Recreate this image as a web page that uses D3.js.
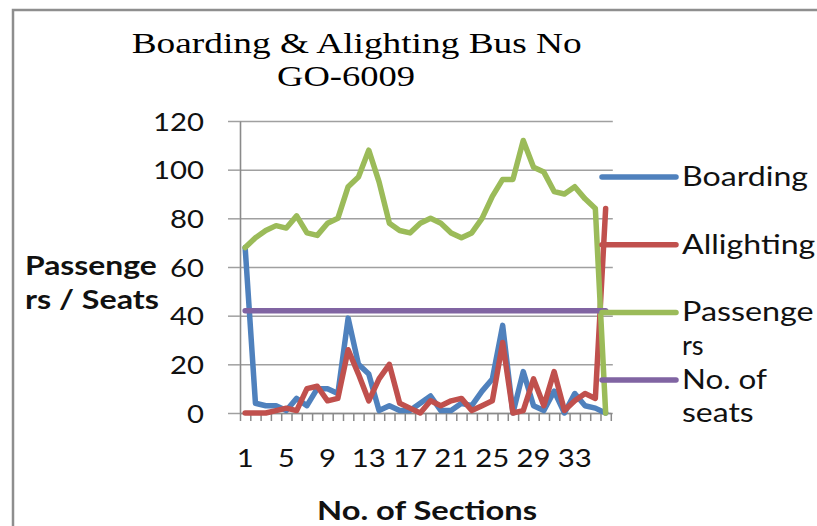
<!DOCTYPE html>
<html>
<head>
<meta charset="utf-8">
<script src="https://cdn.jsdelivr.net/npm/d3@7"></script>
<style>
  html, body { margin: 0; padding: 0; background: #fff; }
  svg { display: block; }
</style>
</head>
<body>
<svg id="chart" width="817" height="526"></svg>
<script>
// Sections along the route
const sections = [1, 2, 3, 4, 5, 6, 7, 8, 9, 10, 11, 12, 13, 14, 15, 16, 17, 18,
                  19, 20, 21, 22, 23, 24, 25, 26, 27, 28, 29, 30, 31, 32, 33, 34, 35, 36];

// Passengers boarding at each section
const boarding = [68, 4, 3, 3, 1, 6, 3, 10, 10, 8, 39, 20, 16, 1, 3, 1, 1, 4,
                  7, 1, 1, 4, 3, 9, 14, 36, 0, 17, 3, 1, 9, 0, 8, 3, 2, 0];

// Passengers alighting at each section
const alighting = [0, 0, 0, 1, 2, 1, 10, 11, 5, 6, 26, 16, 5, 14, 20, 4, 2, 0,
                   5, 3, 5, 6, 1, 3, 5, 29, 0, 1, 14, 3, 17, 1, 5, 8, 6, 84];

// Passengers on board after each section
const passengers = [68, 72, 75, 77, 76, 81, 74, 73, 78, 80, 93, 97, 108, 95, 78, 75, 74, 78,
                    80, 78, 74, 72, 74, 80, 89, 96, 96, 112, 101, 99, 91, 90, 93, 88, 84, 0];

// Seating capacity of the bus
const seats = [42, 42, 42, 42, 42, 42, 42, 42, 42, 42, 42, 42, 42, 42, 42, 42, 42, 42,
               42, 42, 42, 42, 42, 42, 42, 42, 42, 42, 42, 42, 42, 42, 42, 42, 42, 42];

const yTicks = [0, 20, 40, 60, 80, 100, 120];
const xTickLabels = [1, 5, 9, 13, 17, 21, 25, 29, 33];

const seriesNames = ["Boarding", "Allighting", "Passengers", "No. of seats"];
const seriesValues = [boarding, alighting, passengers, seats];
const seriesColors = ["#4f81bd", "#c0504d", "#9bbb59", "#8064a2"];
const legendLines = [["Boarding"], ["Allighting"], ["Passenge", "rs"], ["No. of", "seats"]];

// ---- layout ----
const plotLeft = 240, plotRight = 610.8, plotTop = 121, plotBottom = 413;
const sansFont = "Lato, 'Open Sans', sans-serif";
const textColor = "#111";
const gridColor = "#a0a0a0";
const digitWidth = 17;      // text in this chart is set wide
const lineWidth = 5.5;

const svg = d3.select("#chart");

// Outer chart frame
svg.append("path")
  .attr("d", "M13,530V10H820")
  .attr("fill", "none")
  .attr("stroke", "#8e8e8e")
  .attr("stroke-width", 2.5);

const x = d3.scaleBand().domain(sections).range([plotLeft, plotRight]);
const cx = s => x(s) + x.bandwidth() / 2;
const y = d3.scaleLinear().domain([0, 120]).range([plotBottom, plotTop]);

// Title
const title = svg.append("g")
  .attr("font-family", "'Liberation Serif', 'Times New Roman', serif")
  .attr("font-size", 30)
  .attr("fill", "#000");
title.append("text").attr("x", 356.7).attr("y", 52.5).attr("text-anchor", "middle")
  .attr("textLength", 450).attr("lengthAdjust", "spacingAndGlyphs")
  .text("Boarding & Alighting Bus No");
title.append("text").attr("x", 346).attr("y", 86).attr("text-anchor", "middle")
  .attr("textLength", 138).attr("lengthAdjust", "spacingAndGlyphs")
  .text("GO-6009");

// Horizontal gridlines
svg.append("g")
  .attr("transform", `translate(${plotLeft},0)`)
  .call(d3.axisLeft(y).tickValues(yTicks).tickSize(-(plotRight - plotLeft + 2)).tickFormat(""))
  .call(g => g.select(".domain").remove())
  .call(g => g.selectAll("line").attr("stroke", gridColor).attr("stroke-width", 1.5));

// Y axis with outside ticks and labels
svg.append("g")
  .attr("transform", `translate(${plotLeft},0)`)
  .call(d3.axisLeft(y).tickValues(yTicks).tickSizeInner(12).tickSizeOuter(0).tickPadding(24))
  .call(g => g.select(".domain").attr("stroke", "#8a8a8a").attr("stroke-width", 1.6))
  .call(g => g.selectAll("line").attr("stroke", gridColor).attr("stroke-width", 1.5))
  .call(g => g.attr("font-family", sansFont).attr("font-size", 25))
  .call(g => g.selectAll("text")
    .attr("fill", textColor)
    .attr("dy", "0.36em")
    .attr("textLength", d => String(d).length * digitWidth)
    .attr("lengthAdjust", "spacingAndGlyphs"));

// X axis: tick marks on the section boundaries
const xEdges = d3.scaleLinear().domain([0, sections.length]).range([plotLeft, plotRight]);
svg.append("g")
  .attr("transform", `translate(0,${plotBottom})`)
  .call(d3.axisBottom(xEdges).tickValues(d3.range(0, sections.length + 1)).tickSize(8).tickSizeOuter(0).tickFormat(""))
  .call(g => g.select(".domain").attr("stroke", "#8a8a8a").attr("stroke-width", 1.6))
  .call(g => g.selectAll("line").attr("stroke", "#8a8a8a").attr("stroke-width", 1.5));

// X axis labels at section centres
svg.append("g")
  .attr("transform", `translate(0,${plotBottom})`)
  .call(d3.axisBottom(x).tickValues(xTickLabels).tickSize(0).tickPadding(36))
  .call(g => g.select(".domain").remove())
  .call(g => g.attr("font-family", sansFont).attr("font-size", 25))
  .call(g => g.selectAll("text")
    .attr("fill", textColor)
    .attr("textLength", d => String(d).length * digitWidth)
    .attr("lengthAdjust", "spacingAndGlyphs"));

// Axis titles
const yTitle = svg.append("g")
  .attr("font-family", sansFont).attr("font-weight", "bold").attr("font-size", 26).attr("fill", textColor);
yTitle.append("text").attr("x", 25).attr("y", 275)
  .attr("textLength", 131.7).attr("lengthAdjust", "spacingAndGlyphs").text("Passenge");
yTitle.append("text").attr("x", 25).attr("y", 309.3)
  .attr("textLength", 134).attr("lengthAdjust", "spacingAndGlyphs").text("rs / Seats");

svg.append("text")
  .attr("x", 427).attr("y", 520).attr("text-anchor", "middle")
  .attr("font-family", sansFont).attr("font-weight", "bold").attr("font-size", 26).attr("fill", textColor)
  .attr("textLength", 220).attr("lengthAdjust", "spacingAndGlyphs")
  .text("No. of Sections");

// Series lines
const line = d3.line().x(d => cx(d.s)).y(d => y(d.v));
seriesValues.forEach((vals, i) => {
  svg.append("path")
    .datum(sections.map((s, k) => ({ s, v: vals[k] })))
    .attr("d", line)
    .attr("fill", "none")
    .attr("stroke", seriesColors[i])
    .attr("stroke-width", lineWidth)
    .attr("stroke-linejoin", "round")
    .attr("stroke-linecap", "round");
});

// Legend
const legendTextWidths = {
  "Boarding": 126, "Allighting": 133.3, "Passenge": 131.7, "rs": 21.7, "No. of": 85, "seats": 71.7
};
const legend = svg.append("g")
  .attr("font-family", sansFont).attr("font-size", 26).attr("fill", textColor);
seriesNames.forEach((name, i) => {
  const ly = 177 + i * 67.7;
  legend.append("line")
    .attr("x1", 602).attr("x2", 676).attr("y1", ly).attr("y2", ly)
    .attr("stroke", seriesColors[i]).attr("stroke-width", lineWidth).attr("stroke-linecap", "round");
  legendLines[i].forEach((t, j) => {
    legend.append("text")
      .attr("x", 682).attr("y", ly + 9 + j * 33.3)
      .attr("textLength", legendTextWidths[t]).attr("lengthAdjust", "spacingAndGlyphs")
      .text(t);
  });
});
</script>
</body>
</html>
